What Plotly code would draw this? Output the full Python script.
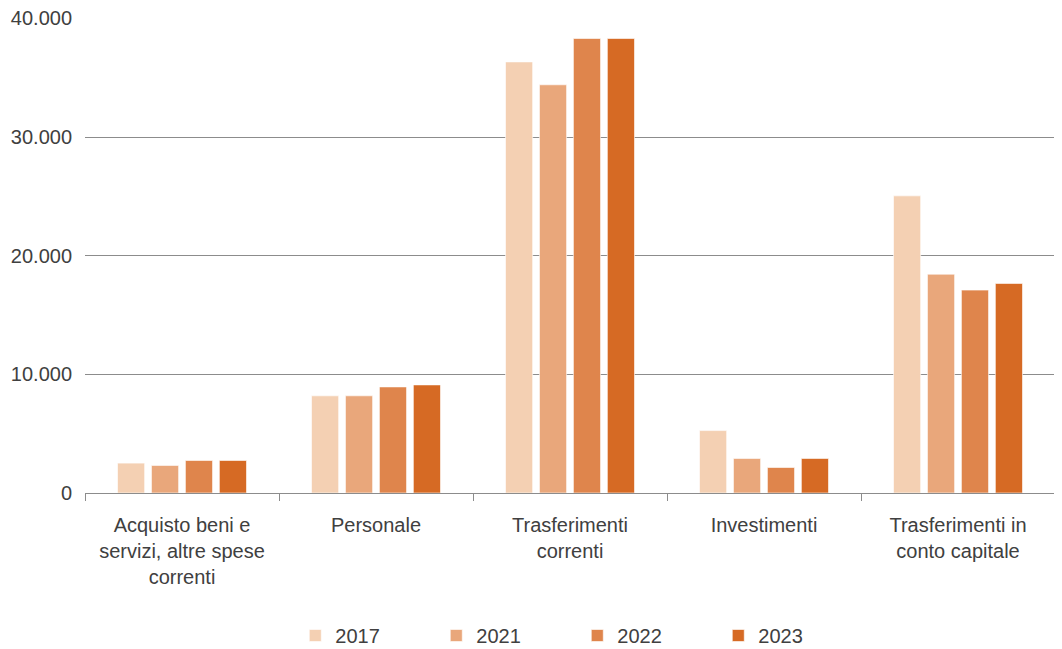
import plotly.graph_objects as go

categories = [
    "Acquisto beni e<br>servizi, altre spese<br>correnti",
    "Personale",
    "Trasferimenti<br>correnti",
    "Investimenti",
    "Trasferimenti in<br>conto capitale",
]
years = ["2017", "2021", "2022", "2023"]
v2017 = [2520, 8190, 36330, 5260, 25040]
v2021 = [2320, 8190, 34400, 2910, 18440]
v2022 = [2740, 8940, 38300, 2150, 17100]
v2023 = [2740, 9110, 38300, 2910, 17660]
values = [v2017, v2021, v2022, v2023]
colors = ["#F4D0B3", "#E9A77B", "#DF854C", "#D66A24"]

font_family = "Liberation Sans, Arial, sans-serif"
text_color = "#404040"

fig = go.Figure()
for y, vals, c in zip(years, values, colors):
    fig.add_trace(go.Bar(
        x=categories, y=vals, name=y,
        marker=dict(color=c, line=dict(color="rgba(255,255,255,0.6)", width=1)),
    ))

fig.update_layout(
    width=1054, height=641,
    margin=dict(l=77, r=7, t=10, b=156, autoexpand=False),
    paper_bgcolor="white", plot_bgcolor="white",
    barmode="group", bargap=0.3, bargroupgap=0.2,
    separators=",.",
    font=dict(family=font_family, size=20, color=text_color),
    showlegend=True,
    legend=dict(
        orientation="h", x=0.5075, xanchor="center", y=-0.30, yanchor="middle",
        entrywidth=96, entrywidthmode="pixels",
        font=dict(size=20, color=text_color),
    ),
    xaxis=dict(
        type="category",
        showline=True, linecolor="#8c8c8c", linewidth=1,
        ticks="outside", ticklen=7, tickcolor="#8c8c8c", tickson="boundaries",
        showgrid=False,
        ticklabelstandoff=14,
        tickfont=dict(size=20, color=text_color),
    ),
    yaxis=dict(
        range=[0, 40030], tickvals=[0, 10000, 20000, 30000, 40000],
        tickformat=",d",
        showgrid=True, gridcolor="#8c8c8c", gridwidth=1,
        zeroline=False, showline=False,
        ticks="", ticklabelstandoff=12,
        ticklabeloverflow="allow",
        tickfont=dict(size=20, color=text_color),
    ),
)

fig.write_html("out.html")
